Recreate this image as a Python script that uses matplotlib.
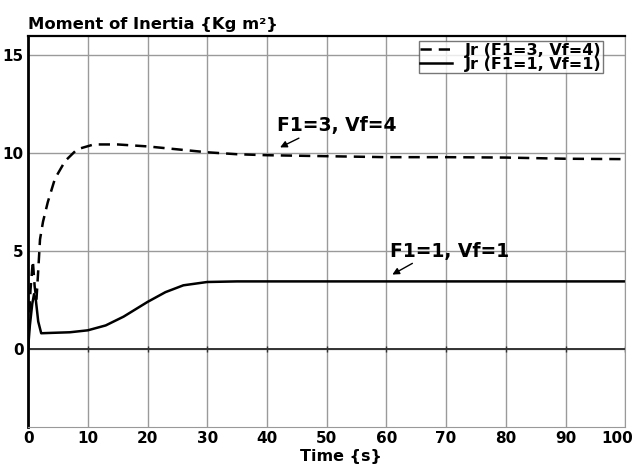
import numpy as np
import matplotlib
matplotlib.use("Agg")
import matplotlib.pyplot as plt
import matplotlib.transforms as mtransforms

plt.rcParams['font.family'] = ['DejaVu Sans']
plt.rcParams['font.weight'] = 'bold'

# time samples (s) and inertia values for the two runs
t_a = [0, 0.4, 0.8, 1.1, 1.4, 1.7, 2.0, 2.5, 3.3, 4.5, 6.2, 8.2, 11, 15, 20, 25, 30,
       35, 40, 50, 60, 70, 80, 90, 100]
jr_a = [0, 3.0, 4.5, 3.2, 2.5, 4.0, 5.6, 6.5, 7.5, 8.7, 9.6, 10.2, 10.45, 10.45, 10.35,
        10.2, 10.05, 9.95, 9.9, 9.85, 9.8, 9.8, 9.78, 9.72, 9.7]

t_b = [0, 0.3, 0.7, 1.0, 1.3, 1.7, 2.2, 4, 7, 10, 13, 16, 20, 23, 26, 30, 35, 50,
       70, 100]
jr_b = [0, 1.2, 2.3, 2.8, 2.5, 1.4, 0.8, 0.82, 0.85, 0.95, 1.2, 1.65, 2.4, 2.9, 3.25,
        3.42, 3.45, 3.45, 3.45, 3.45]

x_ticks = [0, 10, 20, 30, 40, 50, 60, 70, 80, 90, 100]
y_ticks = [0, 5, 10, 15]

fig = plt.figure(figsize=(6.38, 4.72), dpi=100)
ax = fig.add_axes([0.044, 0.095, 0.936, 0.829])

ax.plot(t_a, jr_a, 'k--', lw=1.8, dashes=(4.5, 2.8), label='Jr (F1=3, Vf=4)')
ax.plot(t_b, jr_b, 'k-', lw=1.8, label='Jr (F1=1, Vf=1)')

# zero line with small ticks
ax.plot(x_ticks, np.zeros(len(x_ticks)), color='#333333', lw=1.4, marker='|', ms=5,
        zorder=1)

ax.set_xlim(0, 100)
ax.set_ylim(-4, 16)
ax.set_xticks(x_ticks)
ax.set_yticks(y_ticks)
ax.tick_params(axis='both', length=0, labelsize=11, pad=3)
for lab in ax.get_xticklabels() + ax.get_yticklabels():
    lab.set_fontweight('bold')
# nudge the last x label so it stays inside the figure
last = ax.get_xticklabels()[-1]
last.set_transform(last.get_transform() +
                   mtransforms.ScaledTranslation(-6 / 72, 0, fig.dpi_scale_trans))
ax.grid(True, color='#9a9a9a', lw=1.0)
ax.set_axisbelow(True)

ax.spines['left'].set_linewidth(2.0)
ax.spines['top'].set_linewidth(1.6)
ax.spines['right'].set_color('#999999')
ax.spines['bottom'].set_color('#999999')

ax.set_xlabel('Time {s}', fontsize=11.5, fontweight='bold', labelpad=0)
ax.xaxis.set_label_coords(0.524, -0.055)
ax.set_title('Moment of Inertia {Kg m²}', loc='left', fontsize=11.8, fontweight='bold',
             pad=5)

leg = ax.legend(loc='upper right', bbox_to_anchor=(0.963, 0.987),
                prop={'weight': 'bold', 'size': 11.5},
                frameon=True, fancybox=False, edgecolor='#555555',
                borderpad=0.1, labelspacing=-0.05, handlelength=2.0,
                handletextpad=0.8, borderaxespad=0.0)
leg.get_frame().set_linewidth(1.0)

arrow = dict(arrowstyle='-|>', color='k', lw=1.0, mutation_scale=10,
             shrinkA=0, shrinkB=0, relpos=(0.23, 0))
ax.annotate('F1=3, Vf=4', xy=(42.2, 10.3), xytext=(41.7, 11.4),
            fontsize=13.5, fontweight='bold', va='center', ha='left',
            arrowprops=arrow)
ax.annotate('F1=1, Vf=1', xy=(61, 3.8), xytext=(60.6, 5.0),
            fontsize=13.5, fontweight='bold', va='center', ha='left',
            arrowprops=arrow)

fig.savefig('out.png', dpi=100)
